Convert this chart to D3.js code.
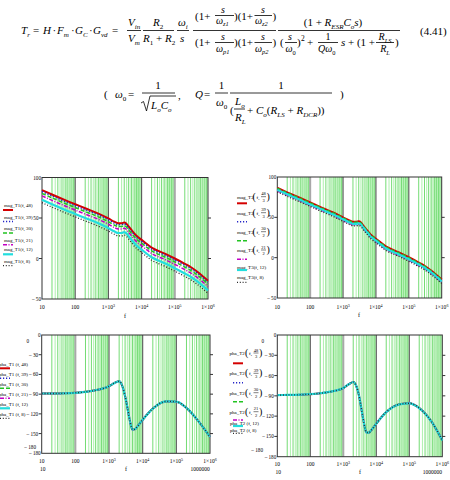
<!DOCTYPE html>
<html><head><meta charset="utf-8">
<script src="https://cdn.jsdelivr.net/npm/d3@7"></script>
<style>body{margin:0;background:#fff}svg{display:block}</style>
</head><body>
<svg id="c" width="450" height="480"></svg>
<script>
// ---------------- DATA ----------------
const freqMag = [10,20,50,100,200,500,1000,1500,2000,2500,3000,3500,4000,5000,7000,10000,20000,50000,100000,200000,300000,500000,1000000];
const magT1_48 = [84.5,79,72,67,62,55.5,49.5,45.5,43.5,43.5,44.5,43,40,35,28,23,13.5,6,0,-6.5,-10.5,-17,-27.5];
const magT1_39 = [82.7,77.2,70.2,65.2,60.2,53.7,47.7,43.7,41.7,41.7,42.7,41.2,38.2,33.2,26.2,21.2,11.7,4.2,-1.8,-8.3,-12.3,-18.8,-29.3];
const magT1_30 = [80.4,74.9,67.9,62.9,57.9,51.4,45.4,41.4,39.4,39.4,40.4,38.9,35.9,30.9,23.9,18.9,9.4,1.9,-4.1,-10.6,-14.6,-21.1,-31.6];
const magT1_21 = [77.3,71.8,64.8,59.8,54.8,48.3,42.3,38.3,36.3,36.3,37.3,35.8,32.8,27.8,20.8,15.8,6.3,-1.2,-7.2,-13.7,-17.7,-24.2,-34.7];
const magT1_12 = [72.5,67,60,55,50,43.5,37.5,33.5,31.5,31.5,32.5,31,28,23,16,11,1.5,-6,-12,-18.5,-22.5,-29,-39.5];
const magT1_8  = [68.9,63.4,56.4,51.4,46.4,39.9,33.9,29.9,27.9,27.9,28.9,27.4,24.4,19.4,12.4,7.4,-2.1,-9.6,-15.6,-22.1,-26.1,-32.6,-43.1];

const magT2_48_3 = [86.5,81,74,68.5,63,56,50,46.5,44.5,44.5,45,43.5,40.5,35.5,28.5,23.5,14,6.5,0.5,-6,-10,-16.5,-27];
const magT2_39_3 = [84.7,79.2,72.2,66.7,61.2,54.2,48.2,44.7,42.7,42.7,43.2,41.7,38.7,33.7,26.7,21.7,12.2,4.7,-1.3,-7.8,-11.8,-18.3,-28.8];
const magT2_30_2 = [85.9,80.4,73.4,67.9,62.4,55.4,49.4,45.9,43.9,43.9,44.4,42.9,39.9,34.9,27.9,22.9,13.4,5.9,-0.1,-6.6,-10.6,-17.1,-27.6];
const magT2_21_2 = [82.8,77.3,70.3,64.8,59.3,52.3,46.3,42.8,40.8,40.8,41.3,39.8,36.8,31.8,24.8,19.8,10.3,2.8,-3.2,-9.7,-13.7,-20.2,-30.7];
const magT3_12 = [84,78.5,71.5,66,60.5,53.5,47.5,44,42,42,42.5,41,38,33,26,21,11.5,4,-2,-8.5,-12.5,-19,-29.5];
const magT3_8  = [81.5,76,69,63.5,58,51,45,41.5,39.5,39.5,40,38.5,35.5,30.5,23.5,18.5,9,1.5,-4.5,-11,-15,-21.5,-32];

const freqPha = [10,20,50,100,200,500,1000,1500,2000,2500,3000,3500,4000,4500,5000,6000,7000,10000,20000,50000,100000,200000,500000,1000000];
const phaT1 = [-89,-89,-88.7,-88,-86.5,-83,-78,-72.5,-70.5,-78,-93,-110,-126,-138,-144,-143,-139,-129,-112,-101,-101.5,-111,-134,-155];
const phaT2 = [-88.8,-88.7,-88.3,-87.5,-86.2,-83,-78.5,-72.5,-69.5,-76,-90,-108,-124,-137,-144,-144.5,-141,-131,-114,-102.5,-101,-108,-130,-156];

const xTicks = [10,100,1000,10000,100000,1000000];
const xTickText = [["10",""],["100",""],["1×10","3"],["1×10","4"],["1×10","5"],["1×10","6"]];
const magYTicks = [100,50,0,-50];
const magYText = ["100","50","0","– 50"];
const phaYTicks = [0,-30,-60,-90,-120,-150,-180];
const phaYText = ["0","– 30","– 60","– 90","– 120","– 150","– 180"];

const legT1 = ["mag_T1(f, 48)","mag_T1(f, 39)","mag_T1(f, 30)","mag_T1(f, 21)","mag_T1(f, 12)","mag_T1(f, 8)"];
const legT2 = [["mag_T2","48","3"],["mag_T2","39","3"],["mag_T2","30","2"],["mag_T2","21","2"],["mag_T3(f, 12)"],["mag_T3(f, 8)"]];
const legP1 = ["pha_T1 (f, 48)","pha_T1 (f, 39)","pha_T1 (f, 30)","pha_T1 (f, 21)","pha_T1 (f, 12)","pha_T1 (f, 8)"];
const legP2 = [["pha_T2","48","3"],["pha_T2","39","3"],["pha_T2","30","2"],["pha_T2","21","2"],["pha_T2 (f, 12)"],["pha_T2 (f, 8)"]];

// ---------------- STYLE ----------------
const SERIF = "'Liberation Serif','Times New Roman',serif";
const styles = [
  {c:'#d40000', w:2,   d:null},
  {c:'#2525c8', w:1.5, d:'1.2,1.8'},
  {c:'#22c422', w:1.5, d:'4,2'},
  {c:'#c400c4', w:1.5, d:'4,1.5,1,1.5'},
  {c:'#22dede', w:2.2, d:null},
  {c:'#2a2a2a', w:1.3, d:'1,1.8'}
];
const svg = d3.select('#c');

function txt(g,x,y,s,size,opts){
  opts=opts||{};
  return g.append('text').attr('x',x).attr('y',y).text(s)
    .attr('font-family',SERIF).attr('font-size',size)
    .attr('font-style',opts.it?'italic':'normal')
    .attr('text-anchor',opts.a||'start').attr('fill','#000');
}
function rich(g,x,y,parts,size,anchor){
  const t=g.append('text').attr('x',x).attr('y',y).attr('font-family',SERIF)
    .attr('font-size',size).attr('text-anchor',anchor||'start').attr('fill','#000');
  let shift=0;
  parts.forEach(([s,st])=>{
    let target=0,fs=size;
    if(st.includes('b')){target=size*0.28;fs=size*0.64;}
    if(st.includes('p')){target=-size*0.38;fs=size*0.64;}
    t.append('tspan').text(s).attr('font-size',fs)
      .attr('font-style',st.includes('i')?'italic':'normal').attr('dy',target-shift);
    shift=target;
  });
  return t;
}
function hbar(g,x1,x2,y){g.append('line').attr('x1',x1).attr('x2',x2).attr('y1',y).attr('y2',y).attr('stroke','#000').attr('stroke-width',0.8);}

// ---------------- FORMULA ----------------
const F = svg.append('g');
const fs=11;
rich(F,21,34,[['T','i'],['r','ib']],fs);
txt(F,33,34,'=',fs);
txt(F,43,34,'H',fs,{it:1});
txt(F,52.5,34,'·',fs);
rich(F,57,34,[['F','i'],['m','ib']],fs);
txt(F,71,34,'·',fs);
rich(F,75,34,[['G','i'],['C','ib']],fs);
txt(F,89,34,'·',fs);
rich(F,93,34,[['G','i'],['vd','ib']],fs);
txt(F,112,34,'=',fs);
rich(F,128,26,[['V','i'],['in','ib']],fs); hbar(F,127,141,30.5); rich(F,128,42,[['V','i'],['m','ib']],fs);
rich(F,153,26,[['R','i'],['2','b']],fs); hbar(F,143,174,30.5); rich(F,143,42,[['R','i'],['1','b'],[' + ',''],['R','i'],['2','b']],fs);
rich(F,178,26,[['ω','i'],['i','ib']],fs); hbar(F,177,189,30.5); txt(F,180,42,'s',fs,{it:1});
hbar(F,193,276,30.5);
txt(F,195,20,'(1+',fs); txt(F,221,13,'s',10,{it:1}); hbar(F,215,234,15.5); rich(F,216,23.5,[['ω','i'],['z1','ib']],10);
txt(F,234,20,')(1+',fs); txt(F,261,13,'s',10,{it:1}); hbar(F,254.5,272,15.5); rich(F,255,23.5,[['ω','i'],['z2','ib']],10);
txt(F,272.5,20,')',fs);
txt(F,195,46,'(1+',fs); txt(F,221,40,'s',10,{it:1}); hbar(F,215,234,42.5); rich(F,216,51.5,[['ω','i'],['p1','ib']],10);
txt(F,234,46,')(1+',fs); txt(F,261,40,'s',10,{it:1}); hbar(F,254.5,272,42.5); rich(F,255,51.5,[['ω','i'],['p2','ib']],10);
txt(F,272.5,46,')',fs);
hbar(F,278,400,30.5);
rich(F,333,26,[['(1 + ',''],['R','i'],['ESR','ib'],['C','i'],['o','ib'],['s','i'],[')','']],fs,'middle');
txt(F,280,46,'(',fs); txt(F,288,40,'s',10,{it:1}); hbar(F,285,297,42.5); rich(F,285.5,52,[['ω','i'],['0','b']],10);
txt(F,297,46,')',fs); txt(F,301,41,'2',7.5); txt(F,307,46,'+',fs);
txt(F,328,40,'1',10,{a:'middle'}); hbar(F,318,338,42.5); rich(F,318,52,[['Qω','i'],['0','b']],10);
txt(F,341,46,'s',fs,{it:1}); txt(F,348,46,'+ (1 +',fs);
rich(F,385,40,[['R','i'],['LS','ib']],10,'middle'); hbar(F,376,394,42.5); rich(F,385,52,[['R','i'],['L','ib']],10,'middle');
txt(F,395,46,')',fs);
txt(F,420,35,'(4.41)',fs);
txt(F,104,98,'(',fs);
rich(F,115,98,[['ω','i'],['0','b']],fs); txt(F,128,98,'=',fs);
txt(F,158,89,'1',fs,{a:'middle'}); hbar(F,142,175,93);
F.append('path').attr('d','M141,103 L143.5,101.5 L146.5,111 L150,96 L176,96').attr('fill','none').attr('stroke','#000').attr('stroke-width',0.8);
rich(F,151,108.5,[['L','i'],['o','ib'],['C','i'],['o','ib']],fs);
txt(F,178,99,',',fs);
txt(F,195,98,'Q',fs,{it:1}); txt(F,204,98,'=',fs);
txt(F,221.5,89,'1',fs,{a:'middle'}); hbar(F,215,228,93); rich(F,216,106,[['ω','i'],['0','b']],fs);
txt(F,281,89,'1',fs,{a:'middle'}); hbar(F,230,332,93);
txt(F,230,114,'(',fs);
rich(F,235,105,[['L','i'],['o','ib']],fs); hbar(F,234,245,109); rich(F,235,121,[['R','i'],['L','ib']],fs);
rich(F,247,114,[['+ ',''],['C','i'],['o','ib'],['(',''],['R','i'],['LS','ib'],[' + ',''],['R','i'],['DCR','ib'],['))','']],fs);
txt(F,340,98,')',fs);

// ---------------- CHARTS ----------------
function chart(cfg){
  const g=svg.append('g');
  const x=d3.scaleLog().domain([10,1e6]).range([cfg.x0,cfg.x1]);
  const y=d3.scaleLinear().domain(cfg.yd).range([cfg.y1,cfg.y0]);
  const minors=[];
  for(let dec=10;dec<1e6;dec*=10){for(let k=2;k<10;k+=0.5)minors.push(dec*k);}
  g.selectAll('.mn').data(minors).enter().append('line')
    .attr('x1',d=>x(d)).attr('x2',d=>x(d)).attr('y1',cfg.y0).attr('y2',cfg.y1)
    .attr('stroke',(d,i)=>i%2===0?'#74dc74':'#aef0ae').attr('stroke-width',1);
  xTicks.slice(1,-1).forEach(v=>{
    const light=cfg.light.includes(v);
    g.append('line').attr('x1',x(v)).attr('x2',x(v)).attr('y1',cfg.y0).attr('y2',cfg.y1)
      .attr('stroke',light?'#a8a8a8':'#555').attr('stroke-width',light?2:1.1);
  });
  g.append('rect').attr('x',cfg.x0).attr('y',cfg.y0).attr('width',cfg.x1-cfg.x0).attr('height',cfg.y1-cfg.y0)
    .attr('fill','none').attr('stroke','#333').attr('stroke-width',1);
  cfg.yt.forEach((v,i)=>{
    const yy=y(v);
    const mid=i>0&&i<cfg.yt.length-1;
    if(mid){
      g.append('line').attr('x1',cfg.x0-3).attr('x2',cfg.x0).attr('y1',yy).attr('y2',yy).attr('stroke','#333');
      g.append('line').attr('x1',cfg.x1).attr('x2',cfg.x1+3).attr('y1',yy).attr('y2',yy).attr('stroke','#333');
    }
    txt(g,cfg.x0-(mid?3.5:1),yy+2,cfg.ytt[i],5.2,{a:'end'});
  });
  xTicks.forEach((v,i)=>{
    const t=g.append('text').attr('x',x(v)).attr('y',cfg.xl).attr('font-family',SERIF).attr('font-size',5.5).attr('text-anchor','middle');
    t.append('tspan').text(xTickText[i][0]);
    if(xTickText[i][1]) t.append('tspan').text(xTickText[i][1]).attr('font-size',4).attr('dy',-2.5);
  });
  txt(g,cfg.fx,cfg.fy,'f',6,{a:'middle'});
  if(cfg.row2){
    txt(g,cfg.x0+1,cfg.fy,'10',5.5,{a:'middle'});
    txt(g,cfg.x1-10,cfg.fy,'1000000',5.5,{a:'middle'});
  }
  const line=d3.line().x((d,i)=>x(cfg.f[i])).y(d=>y(d)).curve(d3.curveMonotoneX);
  cfg.series.forEach((s,i)=>{
    const st=styles[i];
    g.append('path').datum(s).attr('d',(d)=>line(d)).attr('fill','none')
      .attr('stroke',st.c).attr('stroke-width',st.w).attr('stroke-dasharray',st.d)
      .attr('stroke-linejoin','round');
  });
  return g;
}
function legendSample(g,x,y,i){
  const st=styles[i];
  g.append('line').attr('x1',x).attr('x2',x+10).attr('y1',y).attr('y2',y)
    .attr('stroke',st.c).attr('stroke-width',st.w).attr('stroke-dasharray',st.d);
}
function fracLegend(g,x,yc,item){
  txt(g,x,yc+2,item[0],5);
  txt(g,x+15.5,yc+3,'(',10);
  txt(g,x+19.5,yc+2,'f,',5);
  txt(g,x+26.5,yc-1.5,item[1],4.5,{a:'middle'});
  g.append('line').attr('x1',x+24).attr('x2',x+29).attr('y1',yc).attr('y2',yc).attr('stroke','#000').attr('stroke-width',0.5);
  txt(g,x+26.5,yc+5,item[2],4.5,{a:'middle'});
  txt(g,x+29.5,yc+3,')',10);
}

const gA=chart({x0:42,x1:208,y0:177.5,y1:299,yd:[-50,100],yt:magYTicks,ytt:magYText,xl:309,fx:125,fy:318,light:[100000],
  f:freqMag,series:[magT1_48,magT1_39,magT1_30,magT1_21,magT1_12,magT1_8]});
const legAy=[205,216.5,228,239.7,249.3,260.7];
legT1.forEach((s,i)=>{txt(gA,4,legAy[i]+2,s,4.9);legendSample(gA,3,legAy[i]+5,i);});

const gB=chart({x0:277.3,x1:441.7,y0:177,y1:298,yd:[-50,100],yt:magYTicks,ytt:magYText,xl:309,fx:359,fy:317,light:[100],
  f:freqMag,series:[magT2_48_3,magT2_39_3,magT2_30_2,magT2_21_2,magT3_12,magT3_8]});
const legBy=[196.7,212.7,231.7,250,267.3,277.3];
const legBl=[203.3,221.7,240.7,259.3,270,282.3];
legT2.forEach((it,i)=>{
  if(it.length===3) fracLegend(gB,237,legBy[i],it); else txt(gB,237,legBy[i]+2,it[0],5);
  legendSample(gB,237,legBl[i],i);
});

const gC=chart({x0:41.7,x1:210,y0:335,y1:453.3,yd:[-180,0],yt:phaYTicks,ytt:phaYText,xl:463,fx:126,fy:471,light:[100],row2:true,
  f:freqPha,series:[phaT1,phaT1,phaT1,phaT1,phaT1,phaT1]});
txt(gC,29,343,'0',5.2,{a:'end'}); txt(gC,36,449,'– 180',5.2,{a:'end'});
const legCy=[364.3,374.3,384.3,394.3,404.3,414.3];
legP1.forEach((s,i)=>{txt(gC,-1,legCy[i]+2,s,5);legendSample(gC,0,legCy[i]+4,i);});

const gD=chart({x0:277.3,x1:442.3,y0:335,y1:456.7,yd:[-180,0],yt:phaYTicks,ytt:phaYText,xl:466,fx:360,fy:474,light:[1000],row2:true,
  f:freqPha,series:[phaT2,phaT2,phaT2,phaT2,phaT2,phaT2]});
txt(gD,264,343,'0',5.2,{a:'end'}); txt(gD,263,452,'– 180',5.2,{a:'end'});
const legDy=[353,373.3,392.7,411.7,423.3,430];
const legDl=[363.3,382.7,401.7,420,426,433.3];
legP2.forEach((it,i)=>{
  if(it.length===3) fracLegend(gD,229.5,legDy[i],it); else txt(gD,230,legDy[i]+2,it[0],5);
  legendSample(gD,233,legDl[i],i);
});
</script>
</body></html>
